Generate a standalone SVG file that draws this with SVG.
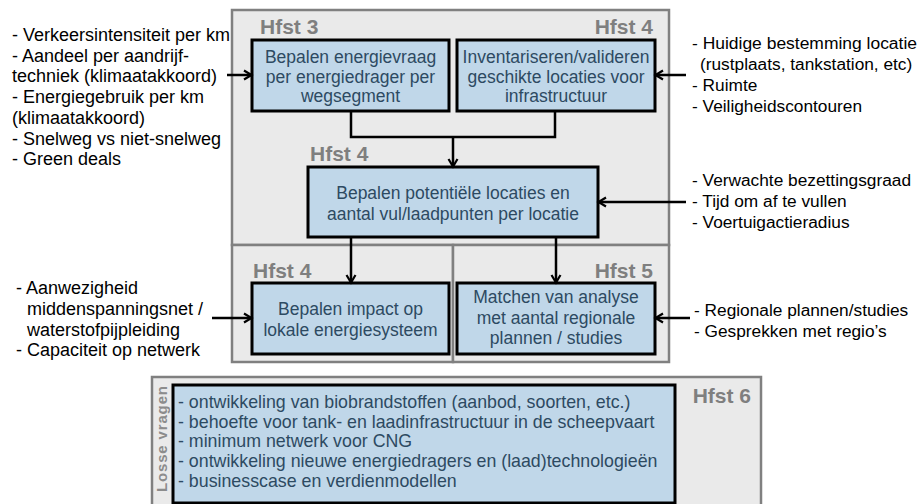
<svg xmlns="http://www.w3.org/2000/svg" width="922" height="504" viewBox="0 0 922 504">
<defs>
<marker id="arr" markerWidth="12" markerHeight="12" refX="9" refY="6" orient="auto" markerUnits="userSpaceOnUse">
<path d="M2,1.5 L9.5,6 L2,10.5" fill="none" stroke="#000" stroke-width="2.2"/>
</marker>
<style>
.panel{fill:#EAEAEA;stroke:#808080;stroke-width:2.5}
.box{fill:#C0D7E9;stroke:#000;stroke-width:3}
.bt{font-family:"Liberation Sans",Arial,sans-serif;font-size:17.5px;fill:#2D4A62;text-anchor:middle}
.lt{font-family:"Liberation Sans",Arial,sans-serif;font-size:18px;fill:#000}
.rt{font-family:"Liberation Sans",Arial,sans-serif;font-size:17.3px;fill:#000}
.bl{font-family:"Liberation Sans",Arial,sans-serif;font-size:17.8px;fill:#2D4A62}
.hf{font-family:"Liberation Sans",Arial,sans-serif;font-size:21px;font-weight:bold;fill:#7F7F7F}
.cn{fill:none;stroke:#000;stroke-width:2.5}
</style>
</defs>
<rect width="922" height="504" fill="#fff"/>
<g id="panels">
<rect class="panel" x="232" y="10" width="437" height="235"/>
<rect class="panel" x="232" y="245" width="221" height="117"/>
<rect class="panel" x="453" y="245" width="216" height="117"/>
<rect class="panel" x="152" y="377" width="609" height="130"/>
</g>
<g id="labels">
<text class="hf" x="260" y="34">Hfst 3</text>
<text class="hf" x="653" y="34" text-anchor="end">Hfst 4</text>
<text class="hf" x="310" y="161">Hfst 4</text>
<text class="hf" x="253" y="278">Hfst 4</text>
<text class="hf" x="653" y="278" text-anchor="end">Hfst 5</text>
<text class="hf" x="751" y="403" text-anchor="end">Hfst 6</text>
<text class="hf" style="font-size:15px;fill:#8C8C8C" transform="translate(167,492) rotate(-90)" textLength="106" lengthAdjust="spacing">Losse vragen</text>
</g>
<g id="node-energievraag">
<rect class="box" x="252" y="40" width="197" height="71"/>
<text class="bt" x="350.5" y="63">Bepalen energievraag</text>
<text class="bt" x="350.5" y="83">per energiedrager per</text>
<text class="bt" x="350.5" y="102">wegsegment</text>
</g>
<g id="node-inventariseren">
<rect class="box" x="457" y="40" width="198" height="71"/>
<text class="bt" x="556" y="63">Inventariseren/valideren</text>
<text class="bt" x="556" y="83">geschikte locaties voor</text>
<text class="bt" x="556" y="102">infrastructuur</text>
</g>
<g id="node-potentiele">
<rect class="box" x="308" y="167" width="290" height="70"/>
<text class="bt" x="453" y="199">Bepalen potentiële locaties en</text>
<text class="bt" x="453" y="220">aantal vul/laadpunten per locatie</text>
</g>
<g id="node-impact">
<rect class="box" x="252" y="283" width="197" height="71"/>
<text class="bt" x="350.5" y="315">Bepalen impact op</text>
<text class="bt" x="350.5" y="336">lokale energiesysteem</text>
</g>
<g id="node-matchen">
<rect class="box" x="457" y="283" width="198" height="71"/>
<text class="bt" x="556" y="303">Matchen van analyse</text>
<text class="bt" x="556" y="324">met aantal regionale</text>
<text class="bt" x="556" y="344">plannen / studies</text>
</g>
<g id="node-losse-vragen">
<rect class="box" x="173" y="385" width="502" height="118"/>
<text class="bl" x="178" y="408">- ontwikkeling van biobrandstoffen (aanbod, soorten, etc.)</text>
<text class="bl" x="178" y="428">- behoefte voor tank- en laadinfrastructuur in de scheepvaart</text>
<text class="bl" x="178" y="447">- minimum netwerk voor CNG</text>
<text class="bl" x="178" y="467">- ontwikkeling nieuwe energiedragers en (laad)technologieën</text>
<text class="bl" x="178" y="487">- businesscase en verdienmodellen</text>
</g>
<g id="inputs-left-top">
<text class="lt" x="12" y="41">- Verkeersintensiteit per km</text>
<text class="lt" x="12" y="61.7">- Aandeel per aandrijf-</text>
<text class="lt" x="12" y="82.4">techniek (klimaatakkoord)</text>
<text class="lt" x="12" y="103.1">- Energiegebruik per km</text>
<text class="lt" x="12" y="123.8">(klimaatakkoord)</text>
<text class="lt" x="12" y="144.5">- Snelweg vs niet-snelweg</text>
<text class="lt" x="12" y="165.2">- Green deals</text>
</g>
<g id="inputs-right-top">
<text class="rt" x="692" y="49" textLength="225" lengthAdjust="spacingAndGlyphs">- Huidige bestemming locatie</text>
<text class="rt" x="700" y="70">(rustplaats, tankstation, etc)</text>
<text class="rt" x="692" y="91">- Ruimte</text>
<text class="rt" x="692" y="112">- Veiligheidscontouren</text>
</g>
<g id="inputs-right-mid">
<text class="rt" x="692" y="186">- Verwachte bezettingsgraad</text>
<text class="rt" x="692" y="207">- Tijd om af te vullen</text>
<text class="rt" x="692" y="228">- Voertuigactieradius</text>
</g>
<g id="inputs-left-bottom">
<text class="lt" x="16" y="294">- Aanwezigheid</text>
<text class="lt" x="27" y="315">middenspanningsnet /</text>
<text class="lt" x="27" y="336">waterstofpijpleiding</text>
<text class="lt" x="16" y="356">- Capaciteit op netwerk</text>
</g>
<g id="inputs-right-bottom">
<text class="rt" x="694" y="316">- Regionale plannen/studies</text>
<text class="rt" x="694" y="337">- Gesprekken met regio’s</text>
</g>
<g id="connectors">
<line class="cn" x1="227" y1="75" x2="251" y2="75" marker-end="url(#arr)"/>
<line class="cn" x1="686" y1="75" x2="656" y2="75" marker-end="url(#arr)"/>
<polyline class="cn" points="351,112 351,137 555,137 555,112"/>
<line class="cn" x1="453" y1="137" x2="453" y2="166" marker-end="url(#arr)"/>
<line class="cn" x1="686" y1="202" x2="599" y2="202" marker-end="url(#arr)"/>
<line class="cn" x1="351" y1="238" x2="351" y2="282" marker-end="url(#arr)"/>
<line class="cn" x1="556" y1="238" x2="556" y2="282" marker-end="url(#arr)"/>
<line class="cn" x1="212" y1="318" x2="251" y2="318" marker-end="url(#arr)"/>
<line class="cn" x1="690" y1="318" x2="656" y2="318" marker-end="url(#arr)"/>
</g>
</svg>
